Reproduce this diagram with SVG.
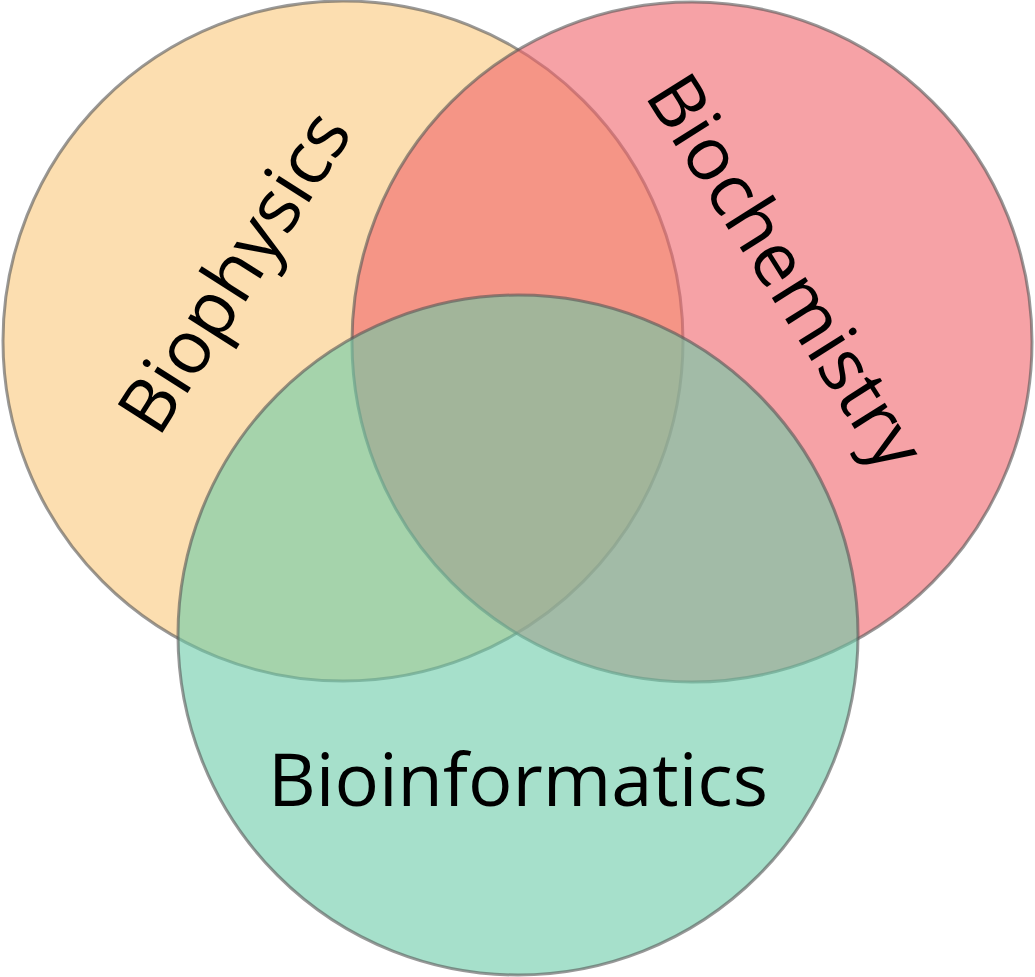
<svg xmlns="http://www.w3.org/2000/svg" width="1035" height="977" viewBox="0 0 1035 977">
<style>
circle{fill-opacity:0.6;stroke:#555;stroke-opacity:0.6;stroke-width:3}
text{font-family:"Open Sans","Liberation Sans",sans-serif;font-size:74px;fill:#000;text-anchor:middle}
</style>
<rect width="1035" height="977" fill="#fff"/>
<g id="biophysics"><circle cx="343" cy="341" r="340" fill="#FAC87B"/></g>
<g id="biochemistry"><circle cx="692" cy="342" r="340" fill="#F0646B"/></g>
<g id="bioinformatics"><circle cx="518" cy="635" r="340" fill="#6BCBA8"/></g>
<g id="labels">
<text transform="translate(235,272) rotate(-57.5)" dy="25">Biophysics</text>
<text transform="translate(785,272) rotate(57.7)" dy="25">Biochemistry</text>
<text x="518" y="806">Bioinformatics</text>
</g>
<g id="connectors"/>
</svg>
